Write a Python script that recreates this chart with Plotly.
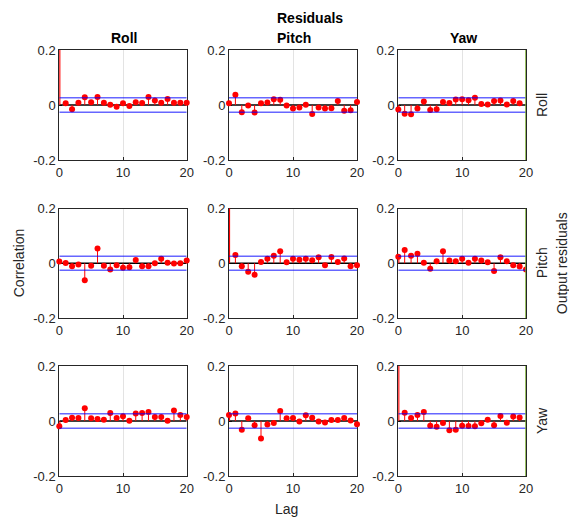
import plotly.graph_objects as go

# Residual auto/cross correlation, lags 0..20, output channels Roll/Pitch/Yaw
lags = list(range(21))
channels = ["Roll", "Pitch", "Yaw"]
conf_bound = 0.026

# rows: residual channel, columns: correlated channel
roll_roll = [1.0, 0.006, -0.015, 0.008, 0.028, 0.010, 0.029, 0.008, 0.001, -0.006, 0.006,
             -0.004, 0.010, 0.007, 0.029, 0.016, 0.008, 0.022, 0.008, 0.008, 0.008]
roll_pitch = [0.006, 0.037, -0.026, -0.002, -0.027, 0.006, 0.009, 0.021, 0.019, -0.002, -0.013,
              -0.009, 0.001, -0.033, -0.009, -0.013, -0.012, 0.015, -0.021, -0.019, 0.011]
roll_yaw = [-0.016, -0.032, -0.034, -0.013, 0.013, -0.018, -0.015, 0.011, 0.007, 0.020, 0.021,
            0.017, 0.026, 0.004, 0.002, 0.015, 0.016, 0.002, 0.015, 0.006, None]

pitch_roll = [0.006, 0.001, -0.011, -0.005, -0.062, -0.009, 0.054, -0.009, -0.023, -0.007, -0.016,
              -0.015, 0.012, -0.011, -0.011, 0.000, 0.016, 0.002, -0.001, 0.000, 0.010]
pitch_pitch = [1.0, 0.030, -0.011, -0.031, -0.042, 0.005, 0.016, 0.027, 0.044, 0.004, 0.016,
               0.013, 0.016, 0.011, 0.022, -0.007, 0.023, 0.005, 0.017, -0.011, -0.007]
pitch_yaw = [0.024, 0.048, 0.027, 0.035, 0.002, -0.020, 0.007, 0.044, 0.010, 0.007, 0.016,
             0.002, 0.016, 0.010, 0.004, -0.028, 0.022, 0.007, -0.007, -0.012, -0.023]

yaw_roll = [-0.019, 0.004, 0.012, 0.011, 0.046, 0.010, 0.007, 0.005, 0.029, 0.011, 0.017,
            0.001, 0.027, 0.029, 0.033, 0.015, 0.015, 0.001, 0.038, 0.022, 0.015]
yaw_pitch = [0.022, 0.027, -0.032, 0.010, -0.015, -0.064, -0.013, -0.007, 0.036, 0.010, 0.011,
             -0.002, 0.021, 0.012, -0.002, -0.005, 0.004, 0.004, 0.011, 0.002, -0.012]
yaw_yaw = [1.0, 0.030, 0.011, 0.022, 0.033, -0.017, -0.021, -0.007, -0.034, -0.032, -0.017,
           -0.018, -0.019, -0.008, 0.005, -0.015, 0.018, -0.006, 0.016, 0.013, None]

corr = [[roll_roll, roll_pitch, roll_yaw],
        [pitch_roll, pitch_pitch, pitch_yaw],
        [yaw_roll, yaw_pitch, yaw_yaw]]

W, H = 569, 518
col_px = [(59.3, 186.7), (229.0, 357.0), (398.3, 526.0)]
row_px = [(50.0, 160.0), (208.5, 318.0), (366.0, 476.0)]

FONT = "Liberation Sans, Arial, sans-serif"
TXT = "#262626"
RED = "#ff0000"
BLUE = "rgba(0,0,255,0.6)"
GREEN = "#77ac30"

fig = go.Figure()
layout = dict(
    template="none",
    width=W, height=H,
    margin=dict(l=0, r=0, t=0, b=0, pad=0, autoexpand=False),
    paper_bgcolor="white", plot_bgcolor="white",
    showlegend=False,
    font=dict(family=FONT, size=13, color=TXT),
)
shapes = []

for i in range(3):
    for j in range(3):
        n = i * 3 + j + 1
        xa = "x" if n == 1 else f"x{n}"
        ya = "y" if n == 1 else f"y{n}"
        vals = corr[i][j]
        pts = [(k, v) for k, v in zip(lags, vals) if v is not None]

        # zero reference line
        fig.add_trace(go.Scatter(x=[0, 20], y=[0, 0], mode="lines",
                                 line=dict(color="black", width=1.5),
                                 xaxis=xa, yaxis=ya, hoverinfo="skip"))
        # stems (the lag-0 stem sits on the axis edge, so it is drawn wider)
        for edge in (False, True):
            sx, sy = [], []
            for k, v in pts:
                if (k == 0) != edge:
                    continue
                sx += [k, k, None]
                sy += [0, v, None]
            fig.add_trace(go.Scatter(x=sx, y=sy, mode="lines",
                                     line=dict(color=RED, width=2.2 if edge else 1),
                                     xaxis=xa, yaxis=ya, hoverinfo="skip"))
        # markers inside the visible range; the last column clips at its right edge
        inside = [(k, v) for k, v in pts if abs(v) <= 0.2]
        for clipped in (False, True):
            sel = [(k, v) for k, v in inside if (j == 2 and k == 20) == clipped]
            fig.add_trace(go.Scatter(x=[k for k, _ in sel], y=[v for _, v in sel],
                                     mode="markers",
                                     marker=dict(color=RED, size=6, line=dict(width=0)),
                                     cliponaxis=clipped, xaxis=xa, yaxis=ya))
        # confidence bounds
        for b in (conf_bound, -conf_bound):
            fig.add_trace(go.Scatter(x=[0, 20], y=[b, b], mode="lines",
                                     line=dict(color=BLUE, width=1.5),
                                     xaxis=xa, yaxis=ya, hoverinfo="skip"))

        x0, x1 = col_px[j]
        y0, y1 = row_px[i]
        common = dict(showline=True, mirror=True, linecolor=TXT, linewidth=1,
                      ticks="inside", ticklen=3, tickcolor=TXT,
                      tickfont=dict(family=FONT, size=13, color=TXT),
                      zeroline=False, layer="below traces", fixedrange=True,
                      automargin=False)
        layout["xaxis" if n == 1 else f"xaxis{n}"] = dict(
            domain=[x0 / W, x1 / W], range=[0, 20], anchor=ya,
            tickvals=[0, 10, 20], showgrid=True, gridcolor="#e3e3e3", gridwidth=1,
            **common)
        layout["yaxis" if n == 1 else f"yaxis{n}"] = dict(
            domain=[1 - y1 / H, 1 - y0 / H], range=[-0.2, 0.2], anchor=xa,
            tickvals=[-0.2, 0, 0.2], ticktext=["-0.2", "0", "0.2"], showgrid=False,
            **common)

        if j == 2:
            # right border of the last column
            shapes.append(dict(type="line", xref=xa, yref=ya, x0=20, x1=20,
                               y0=-0.2, y1=0.2, line=dict(color=GREEN, width=1.5),
                               layer="above"))

layout["shapes"] = shapes


def label(text, x, y, size=13, bold=False, angle=0):
    return dict(text=f"<b>{text}</b>" if bold else text,
                x=x / W, y=1 - y / H, xref="paper", yref="paper",
                showarrow=False, textangle=angle,
                font=dict(family=FONT, size=size, color="black" if bold else TXT),
                xanchor="center", yanchor="middle")


annotations = [label("Residuals", 310, 18, size=14, bold=True)]
for (x0, x1), name in zip(col_px, channels):
    annotations.append(label(name, (x0 + x1) / 2 + 1, 38, size=14, bold=True))
for (y0, y1), name in zip(row_px, channels):
    annotations.append(label(name, 542, (y0 + y1) / 2, size=14, angle=-90))
annotations.append(label("Output residuals", 562, (row_px[1][0] + row_px[1][1]) / 2,
                         size=14, angle=-90))
annotations.append(label("Correlation", 19, (row_px[1][0] + row_px[1][1]) / 2,
                         size=14, angle=-90))
annotations.append(label("Lag", 286, 509, size=14))
layout["annotations"] = annotations

fig.update_layout(**layout)
fig.write_html("out.html")
